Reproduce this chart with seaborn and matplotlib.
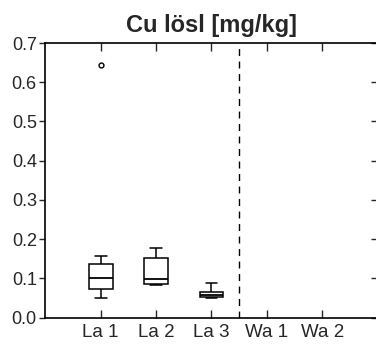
import numpy as np
import pandas as pd
import matplotlib
matplotlib.use("Agg")
import matplotlib.pyplot as plt
import seaborn as sns

sns.set_style("ticks")
plt.rcParams['font.family'] = ['Liberation Sans', 'DejaVu Sans']

title = "Cu lösl [mg/kg]"
categories = ["La 1", "La 2", "La 3", "Wa 1", "Wa 2"]
la1 = [0.050, 0.065, 0.073, 0.090, 0.1015, 0.120, 0.136, 0.158, 0.644]
la2 = [0.083, 0.086, 0.0975, 0.151, 0.178]
la3 = [0.049, 0.052, 0.0566, 0.066, 0.087]
yticks = [0.0, 0.1, 0.2, 0.3, 0.4, 0.5, 0.6, 0.7]
divider_pos = 2.5

df = pd.DataFrame({
    "site": ["La 1"] * len(la1) + ["La 2"] * len(la2) + ["La 3"] * len(la3),
    "value": la1 + la2 + la3,
})

fig = plt.figure(figsize=(3.76, 3.44), dpi=100)
ax = fig.add_axes([0.12, 0.077, 0.885, 0.798])

sns.boxplot(data=df, x="site", y="value", order=categories, ax=ax,
            width=0.43, whis=3, color="white", linecolor="black", linewidth=1.1,
            flierprops=dict(marker="o", markersize=3.5, markerfacecolor="none",
                            markeredgecolor="black", markeredgewidth=1.0),
            medianprops=dict(color="black", linewidth=1.3))

ax.axvline(divider_pos, color="black", linestyle=(0, (5, 4)), linewidth=1.0)

ax.set_xlim(-1, 5)
ax.set_ylim(0, 0.7)
ax.set_yticks(yticks)
ax.set_yticklabels([f"{t:.1f}" for t in yticks])
ax.set_xlabel("")
ax.set_ylabel("")
ax.set_title(title, fontsize=17, fontweight="bold", pad=8)

for s in ax.spines.values():
    s.set_linewidth(1.2)
    s.set_color("black")
ax.spines['right'].set_visible(False)

ax.tick_params(axis='x', direction='in', top=True, bottom=True, length=6,
               width=1.0, labelsize=13.5, pad=5)
ax.tick_params(axis='y', direction='out', left=True, right=False, length=4,
               width=1.0, labelsize=13, pad=2)
sec = ax.secondary_yaxis('right')
sec.set_yticks(yticks)
sec.tick_params(direction='in', length=5, width=1.0, labelright=False)
sec.spines['right'].set_linewidth(1.2)

fig.savefig("out.png", dpi=100)
